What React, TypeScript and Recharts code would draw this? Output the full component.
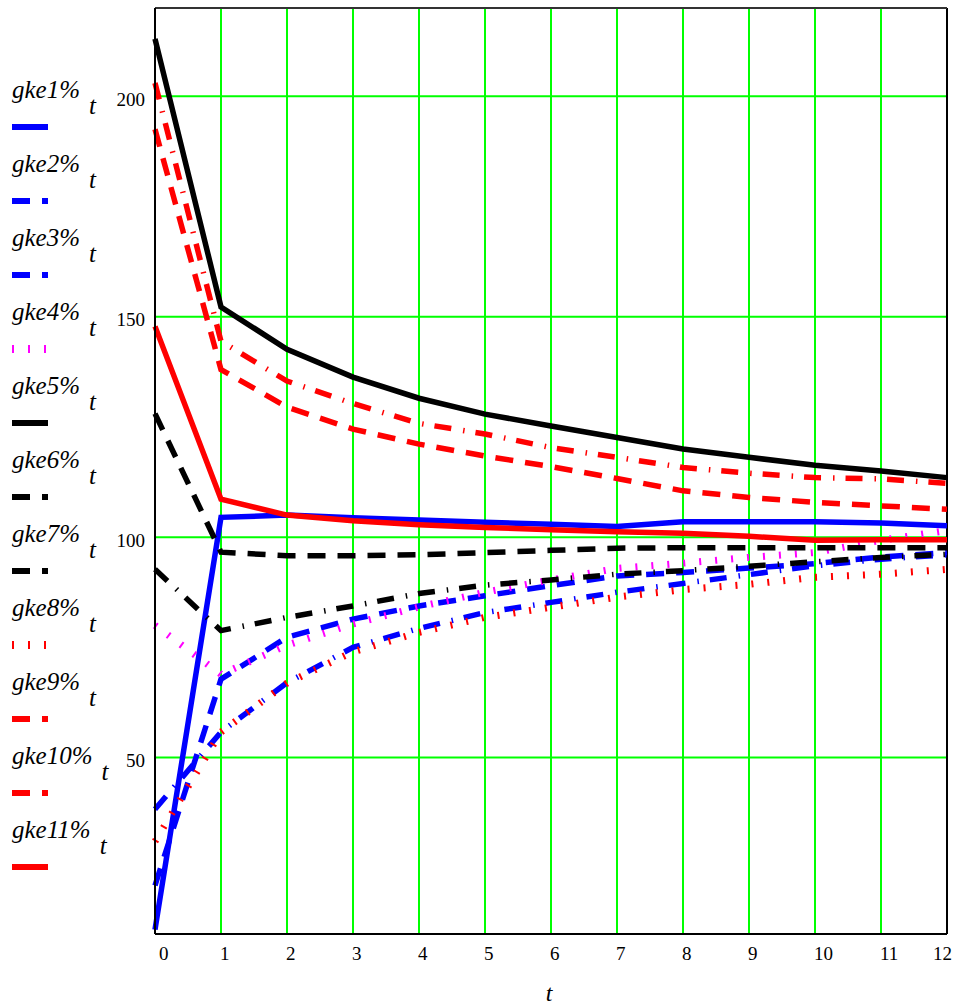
import {
  CartesianGrid,
  Label,
  Line,
  LineChart,
  ReferenceLine,
  XAxis,
  YAxis,
} from "recharts";

// valores de t (eixo x)
const tempos = [0, 1, 2, 3, 4, 5, 6, 7, 8, 9, 10, 11, 12];

// séries
const gke1 = [11, 104.5, 105, 104.4, 103.9, 103.4, 102.9, 102.4, 103.5, 103.5, 103.5, 103.2, 102.6];
const gke2 = [21, 67.8, 77.3, 81.4, 84.4, 86.7, 89.0, 91.2, 92, 93, 94, 95.5, 96.5];
const gke3 = [38.3, 55.8, 67.0, 75.0, 79.3, 82.9, 85.2, 87.5, 89.5, 91.5, 93.5, 95, 96];
const gke4 = [80, 68.9, 75.5, 80.3, 84.2, 87.5, 90.3, 92.9, 94.1, 95.4, 96.5, 99.3, 101.5];
const gke5 = [213, 152.2, 142.6, 136.3, 131.5, 127.9, 125.2, 122.6, 120, 118.1, 116.3, 115, 113.5];
const gke6 = [128, 96.6, 95.8, 95.8, 96, 96.5, 97, 97.5, 97.6, 97.6, 97.6, 97.6, 97.6];
const gke7 = [92.7, 78.8, 81.8, 84.4, 87.2, 89.1, 90.3, 91.6, 92.4, 93.4, 94.4, 95.4, 96.1];
const gke8 = [31, 55.8, 66.9, 74.0, 78.4, 81.8, 84.1, 86.4, 88.1, 89.3, 90.9, 91.6, 92.7];
const gke9 = [192.5, 138, 129.5, 124.5, 121.1, 118.4, 116, 113.3, 110.5, 109, 107.9, 107.1, 106.3];
const gke10 = [203, 144.4, 135.4, 130.3, 125.8, 123.4, 120.3, 118.1, 115.8, 114.5, 113.5, 113.2, 112.2];
const gke11 = [147.8, 108.6, 105, 103.7, 102.8, 102.2, 101.7, 101.2, 100.9, 100.2, 99.3, 99.4, 99.4];

const ticksY = [50, 100, 150, 200];

// estilos de linha (parecido com o Mathcad)
const tracos: Record<string, string | undefined> = {
  solid: undefined,
  dash: "18 12",
  dadot: "17 12 1.5 11",
  dot: "2 14",
};

const series = [
  { key: "gke1", nome: "gke1%", valores: gke1, cor: "#0000ff", estilo: "solid" },
  { key: "gke2", nome: "gke2%", valores: gke2, cor: "#0000ff", estilo: "dash" },
  { key: "gke3", nome: "gke3%", valores: gke3, cor: "#0000ff", estilo: "dadot" },
  { key: "gke4", nome: "gke4%", valores: gke4, cor: "#ff00ff", estilo: "dot" },
  { key: "gke5", nome: "gke5%", valores: gke5, cor: "#000000", estilo: "solid" },
  { key: "gke6", nome: "gke6%", valores: gke6, cor: "#000000", estilo: "dash" },
  { key: "gke7", nome: "gke7%", valores: gke7, cor: "#000000", estilo: "dadot" },
  { key: "gke8", nome: "gke8%", valores: gke8, cor: "#ff0000", estilo: "dot" },
  { key: "gke9", nome: "gke9%", valores: gke9, cor: "#ff0000", estilo: "dash" },
  { key: "gke10", nome: "gke10%", valores: gke10, cor: "#ff0000", estilo: "dadot" },
  { key: "gke11", nome: "gke11%", valores: gke11, cor: "#ff0000", estilo: "solid" },
];

const dados = tempos.map((t, i) => {
  const linha: { [k: string]: number } = { t };
  series.forEach((s) => {
    linha[s.key] = s.valores[i];
  });
  return linha;
});

const fonte = "Liberation Serif";

const TickX = (props: any) => {
  const { x, y, payload, index } = props;
  let px = x - 1;
  let anchor = "start";
  if (index === 0) px = x + 4;
  if (payload.value === 12) {
    px = x + 5;
    anchor = "end";
  }
  return (
    <text x={px} y={y + 26} textAnchor={anchor} style={{ fontFamily: fonte }} fontSize={19} fill="#000">
      {payload.value}
    </text>
  );
};

const TickY = (props: any) => {
  const { x, y, payload } = props;
  return (
    <text x={x - 10} y={y + 9.5} textAnchor="end" style={{ fontFamily: fonte }} fontSize={19} fill="#000">
      {payload.value}
    </text>
  );
};

// legenda à esquerda, do jeito do Mathcad
const Legenda = () => (
  <svg
    width={150}
    height={900}
    style={{ position: "absolute", left: 0, top: 0, display: "block" }}
  >
    {series.map((s, i) => {
      const base = 98 + i * 74;
      const yLinha = base + 29;
      const dot = s.estilo === "dot";
      return (
        <g key={s.key}>
          <text
            x={12}
            y={base}
            style={{ fontFamily: fonte, fontStyle: "italic" }}
            fontSize={25}
            fill="#000"
          >
            {s.nome}
            <tspan dx={9} dy={16}>
              t
            </tspan>
          </text>
          <line
            x1={12}
            x2={48}
            y1={yLinha}
            y2={yLinha}
            stroke={s.cor}
            strokeWidth={dot ? 8 : 6}
            strokeDasharray={dot ? "2 14" : s.estilo === "solid" ? undefined : "18 12 6"}
          />
        </g>
      );
    })}
  </svg>
);

const RotuloT = (props: any) => {
  const vb = props.viewBox || {};
  return (
    <text
      x={vb.x + vb.width / 2 - 2}
      y={1001}
      textAnchor="middle"
      style={{ fontFamily: fonte, fontStyle: "italic" }}
      fontSize={24}
      fill="#000"
    >
      t
    </text>
  );
};

const App = () => {
  return (
    <div style={{ position: "absolute", left: 0, top: 0, width: 953, height: 1005, background: "#fff" }}>
      <LineChart
        width={953}
        height={1005}
        data={dados}
        margin={{ top: 8, right: 6, bottom: 11, left: 105 }}
      >
        <CartesianGrid stroke="#00ff00" strokeWidth={2} />
        <XAxis
          dataKey="t"
          type="number"
          domain={[0, 12]}
          ticks={tempos}
          height={60}
          tickLine={false}
          tickSize={0}
          tickMargin={0}
          axisLine={{ stroke: "#000", strokeWidth: 2 }}
          tick={<TickX />}
          interval={0}
        >
          <Label content={<RotuloT />} />
        </XAxis>
        <YAxis
          type="number"
          domain={[10, 220]}
          ticks={ticksY}
          width={50}
          tickLine={false}
          tickSize={0}
          tickMargin={0}
          axisLine={{ stroke: "#000", strokeWidth: 2 }}
          tick={<TickY />}
          allowDataOverflow
        />
        <ReferenceLine x={12} stroke="#000" strokeWidth={2} />
        <ReferenceLine y={220} stroke="#333" strokeWidth={2} />
        {series.map((s) => (
          <Line
            key={s.key}
            type="linear"
            dataKey={s.key}
            stroke={s.cor}
            strokeWidth={s.estilo === "dot" ? 7 : 5.5}
            strokeDasharray={tracos[s.estilo]}
            dot={false}
            activeDot={false}
            isAnimationActive={false}
          />
        ))}
      </LineChart>
      <Legenda />
    </div>
  );
};

export default App;
